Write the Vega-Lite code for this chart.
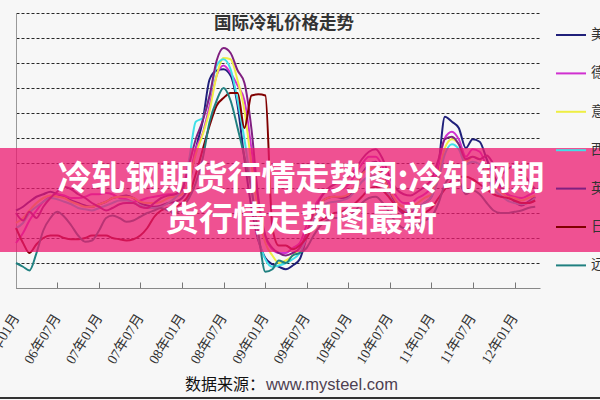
{
  "$schema": "https://vega.github.io/schema/vega-lite/v6.json",
  "width": 524,
  "height": 275,
  "autosize": {"type": "none"},
  "padding": {"left": 16, "top": 13, "right": 60, "bottom": 112},
  "background": "#f7f7f7",
  "config": {"view": {"stroke": null}, "font": "Noto Sans CJK SC"},
  "layer": [
    {
      "data": {"values": [
        {"m":"2006-01-01","美国":610,"德国":480,"意大利":560,"西班牙":540,"英国":600,"日本":540,"远东":400},
        {"m":"2006-02-01","美国":625,"德国":520,"意大利":580,"西班牙":560,"英国":570,"日本":480,"远东":385},
        {"m":"2006-03-01","美国":645,"德国":570,"意大利":610,"西班牙":600,"英国":605,"日本":440,"远东":370},
        {"m":"2006-04-01","美国":665,"德国":610,"意大利":640,"西班牙":625,"英国":580,"日本":475,"远东":440},
        {"m":"2006-05-01","美国":675,"德国":645,"意大利":660,"西班牙":645,"英国":625,"日本":500,"远东":530},
        {"m":"2006-06-01","美国":685,"德国":665,"意大利":670,"西班牙":660,"英国":660,"日本":510,"远东":580},
        {"m":"2006-07-01","美国":675,"德国":675,"意大利":665,"西班牙":655,"英国":685,"日本":510,"远东":605},
        {"m":"2006-08-01","美国":665,"德国":670,"意大利":660,"西班牙":645,"英国":705,"日本":500,"远东":585},
        {"m":"2006-09-01","美国":650,"德国":660,"意大利":645,"西班牙":635,"英国":695,"日本":495,"远东":550},
        {"m":"2006-10-01","美国":640,"德国":660,"意大利":635,"西班牙":620,"英国":675,"日本":495,"远东":510},
        {"m":"2006-11-01","美国":630,"德国":665,"意大利":625,"西班牙":615,"英国":660,"日本":500,"远东":485},
        {"m":"2006-12-01","美国":625,"德国":675,"意大利":625,"西班牙":610,"英国":640,"日本":510,"远东":490},
        {"m":"2007-01-01","美国":635,"德国":675,"意大利":635,"西班牙":620,"英国":625,"日本":510,"远东":530},
        {"m":"2007-02-01","美国":645,"德国":680,"意大利":645,"西班牙":630,"英国":610,"日本":510,"远东":580},
        {"m":"2007-03-01","美国":660,"德国":675,"意大利":660,"西班牙":640,"英国":620,"日本":500,"远东":590},
        {"m":"2007-04-01","美国":665,"德国":660,"意大利":665,"西班牙":650,"英国":635,"日本":495,"远东":580},
        {"m":"2007-05-01","美国":670,"德国":655,"意大利":665,"西班牙":650,"英国":640,"日本":490,"远东":565},
        {"m":"2007-06-01","美国":660,"德国":645,"意大利":660,"西班牙":640,"英国":640,"日本":495,"远东":570},
        {"m":"2007-07-01","美国":640,"德国":650,"意大利":645,"西班牙":630,"英国":625,"日本":510,"远东":585},
        {"m":"2007-08-01","美国":630,"德国":660,"意大利":640,"西班牙":620,"英国":620,"日本":540,"远东":600},
        {"m":"2007-09-01","美国":625,"德国":665,"意大利":640,"西班牙":620,"英国":640,"日本":585,"远东":610},
        {"m":"2007-10-01","美国":630,"德国":670,"意大利":645,"西班牙":625,"英国":660,"日本":610,"远东":620},
        {"m":"2007-11-01","美国":640,"德国":675,"意大利":660,"西班牙":640,"英国":670,"日本":620,"远东":610},
        {"m":"2007-12-01","美国":645,"德国":675,"意大利":665,"西班牙":660,"英国":675,"日本":625,"远东":600},
        {"m":"2008-01-01","美国":660,"德国":690,"意大利":675,"西班牙":695,"英国":695,"日本":640,"远东":620},
        {"m":"2008-02-01","美国":715,"德国":735,"意大利":735,"西班牙":815,"英国":795,"日本":675,"远东":660},
        {"m":"2008-03-01","美国":855,"德国":855,"意大利":835,"西班牙":965,"英国":895,"日本":755,"远东":720},
        {"m":"2008-04-01","美国":970,"德国":920,"意大利":915,"西班牙":980,"英国":970,"日本":855,"远东":820},
        {"m":"2008-05-01","美国":1135,"德国":1030,"意大利":1010,"西班牙":1070,"英国":1070,"日本":950,"远东":965},
        {"m":"2008-06-01","美国":1170,"德国":1150,"意大利":1150,"西班牙":1190,"英国":1210,"日本":1030,"远东":1050},
        {"m":"2008-07-01","美国":1175,"德国":1190,"意大利":1220,"西班牙":1215,"英国":1260,"日本":1060,"远东":1100},
        {"m":"2008-08-01","美国":1150,"德国":1160,"意大利":1215,"西班牙":1175,"英国":1240,"日本":1080,"远东":1050},
        {"m":"2008-09-01","美国":1030,"德国":1110,"意大利":1130,"西班牙":1050,"英国":1170,"日本":1080,"远东":940},
        {"m":"2008-10-01","美国":815,"德国":1050,"意大利":1010,"西班牙":895,"英国":1120,"日本":940,"远东":825},
        {"m":"2008-11-01","美国":620,"德国":855,"意大利":795,"西班牙":695,"英国":935,"日本":1070,"远东":695},
        {"m":"2008-12-01","美国":490,"德国":640,"意大利":600,"西班牙":500,"英国":660,"日本":1075,"远东":520},
        {"m":"2009-01-01","美国":420,"德国":500,"意大利":480,"西班牙":415,"英国":510,"日本":1070,"远东":365},
        {"m":"2009-02-01","美国":395,"德国":455,"意大利":430,"西班牙":385,"英国":460,"日本":540,"远东":375},
        {"m":"2009-03-01","美国":385,"德国":440,"意大利":400,"西班牙":390,"英国":440,"日本":470,"远东":410},
        {"m":"2009-04-01","美国":375,"德国":440,"意大利":410,"西班牙":400,"英国":430,"日本":470,"远东":400},
        {"m":"2009-05-01","美国":390,"德国":460,"意大利":430,"西班牙":415,"英国":440,"日本":455,"远东":430},
        {"m":"2009-06-01","美国":415,"德国":480,"意大利":460,"西班牙":440,"英国":460,"日本":470,"远东":440},
        {"m":"2009-07-01","美国":500,"德国":550,"意大利":520,"西班牙":500,"英国":520,"日本":500,"远东":460},
        {"m":"2009-08-01","美国":585,"德国":620,"意大利":585,"西班牙":570,"英国":600,"日本":550,"远东":510},
        {"m":"2009-09-01","美国":640,"德国":665,"意大利":640,"西班牙":620,"英国":660,"日本":570,"远东":550},
        {"m":"2009-10-01","美国":660,"德国":690,"意大利":660,"西班牙":640,"英国":695,"日本":585,"远东":570},
        {"m":"2009-11-01","美国":665,"德国":695,"意大利":665,"西班牙":645,"英国":715,"日本":600,"远东":580},
        {"m":"2009-12-01","美国":660,"德国":695,"意大利":665,"西班牙":650,"英国":725,"日本":605,"远东":580},
        {"m":"2010-01-01","美国":665,"德国":715,"意大利":675,"西班牙":660,"英国":745,"日本":620,"远东":585},
        {"m":"2010-02-01","美国":705,"德国":755,"意大利":715,"西班牙":690,"英国":775,"日本":640,"远东":610},
        {"m":"2010-03-01","美国":755,"德国":795,"意大利":755,"西班牙":725,"英国":815,"日本":665,"远东":640},
        {"m":"2010-04-01","美国":795,"德国":825,"意大利":775,"西班牙":745,"英国":845,"日本":695,"远东":660},
        {"m":"2010-05-01","美国":805,"德国":825,"意大利":785,"西班牙":750,"英国":855,"日本":705,"远东":665},
        {"m":"2010-06-01","美国":755,"德国":785,"意大利":745,"西班牙":715,"英国":815,"日本":690,"远东":640},
        {"m":"2010-07-01","美国":690,"德国":715,"意大利":690,"西班牙":665,"英国":745,"日本":660,"远东":600},
        {"m":"2010-08-01","美国":625,"德国":665,"意大利":645,"西班牙":625,"英国":695,"日本":625,"远东":560},
        {"m":"2010-09-01","美国":600,"德国":640,"意大利":625,"西班牙":610,"英国":675,"日本":605,"远东":540},
        {"m":"2010-10-01","美国":605,"德国":640,"意大利":625,"西班牙":610,"英国":670,"日本":585,"远东":540},
        {"m":"2010-11-01","美国":620,"德国":660,"意大利":640,"西班牙":625,"英国":685,"日本":585,"远东":555},
        {"m":"2010-12-01","美国":640,"德国":675,"意大利":660,"西班牙":640,"英国":705,"日本":600,"远东":570},
        {"m":"2011-01-01","美国":665,"德国":705,"意大利":675,"西班牙":665,"英国":735,"日本":620,"远东":585},
        {"m":"2011-02-01","美国":795,"德国":795,"意大利":755,"西班牙":735,"英国":815,"日本":660,"远东":640},
        {"m":"2011-03-01","美国":985,"德国":900,"意大利":860,"西班牙":835,"英国":895,"日本":695,"远东":715},
        {"m":"2011-04-01","美国":965,"德国":925,"意大利":895,"西班牙":875,"英国":905,"日本":730,"远东":745},
        {"m":"2011-05-01","美国":940,"德国":895,"意大利":875,"西班牙":855,"英国":875,"日本":745,"远东":730},
        {"m":"2011-06-01","美国":860,"德国":825,"意大利":805,"西班牙":795,"英国":815,"日本":745,"远东":675},
        {"m":"2011-07-01","美国":895,"德国":855,"意大利":825,"西班牙":805,"英国":825,"日本":735,"远东":690},
        {"m":"2011-08-01","美国":885,"德国":845,"意大利":815,"西班牙":795,"英国":815,"日本":715,"远东":675},
        {"m":"2011-09-01","美国":815,"德国":785,"意大利":770,"西班牙":745,"英国":830,"日本":695,"远东":640},
        {"m":"2011-10-01","美国":750,"德国":730,"意大利":715,"西班牙":695,"英国":795,"日本":675,"远东":610},
        {"m":"2011-11-01","美国":705,"德国":695,"意大利":685,"西班牙":670,"英国":755,"日本":665,"远东":600},
        {"m":"2011-12-01","美国":675,"德国":675,"意大利":665,"西班牙":650,"英国":775,"日本":660,"远东":600},
        {"m":"2012-01-01","美国":645,"德国":665,"意大利":660,"西班牙":640,"英国":790,"日本":650,"远东":605},
        {"m":"2012-02-01","美国":630,"德国":660,"意大利":650,"西班牙":635,"英国":770,"日本":640,"远东":610},
        {"m":"2012-03-01","美国":645,"德国":670,"意大利":660,"西班牙":640,"英国":730,"日本":640,"远东":620},
        {"m":"2012-04-01","美国":665,"德国":685,"意大利":670,"西班牙":660,"英国":695,"日本":650,"远东":625}
      ]},
      "transform": [{"fold": ["美国","德国","意大利","西班牙","英国","日本","远东"], "as": ["country","price"]}],
      "mark": {"type": "line", "interpolate": "monotone", "strokeWidth": 2},
      "encoding": {
        "x": {
          "field": "m", "type": "temporal",
          "scale": {"type": "utc", "domain": [{"year":2006,"month":1,"date":1,"utc":true},{"year":2012,"month":4,"date":22,"utc":true}]},
          "axis": {
            "title": null, "grid": false, "tickCount": 30,
            "labelExpr": "utcFormat(datum.value, '%y年%m月')",
            "values": [
              {"year":2006,"month":1,"date":1,"utc":true},{"year":2006,"month":7,"date":1,"utc":true},
              {"year":2007,"month":1,"date":1,"utc":true},{"year":2007,"month":7,"date":1,"utc":true},
              {"year":2008,"month":1,"date":1,"utc":true},{"year":2008,"month":7,"date":1,"utc":true},
              {"year":2009,"month":1,"date":1,"utc":true},{"year":2009,"month":7,"date":1,"utc":true},
              {"year":2010,"month":1,"date":1,"utc":true},{"year":2010,"month":7,"date":1,"utc":true},
              {"year":2011,"month":1,"date":1,"utc":true},{"year":2011,"month":7,"date":1,"utc":true},
              {"year":2012,"month":1,"date":1,"utc":true}
            ],
            "labelAngle": -58, "labelAlign": "right", "labelBaseline": "middle",
            "labelFont": "Liberation Serif, Noto Sans CJK SC", "labelFontSize": 14, "labelColor": "#333",
            "labelPadding": 33, "labelOverlap": false, "labelFlush": false,
            "tickSize": -6, "tickColor": "#777", "domainColor": "#888"
          }
        },
        "y": {
          "field": "price", "type": "quantitative",
          "scale": {"domain": [300, 1400], "nice": false, "zero": false},
          "axis": {
            "title": null, "labels": false, "ticks": false, "tickCount": 30,
            "values": [300,400,500,600,700,800,900,1000,1100,1200,1300,1400],
            "domainColor": "#999", "gridColor": "#111", "gridDash": [3, 2], "gridOpacity": 0.9
          }
        },
        "color": {
          "field": "country", "type": "nominal",
          "scale": {
            "domain": ["美国","德国","意大利","西班牙","英国","日本","远东"],
            "range": ["#20207a","#d030d0","#eeee44","#40e0e8","#802080","#800000","#208080"]
          },
          "legend": {
            "title": null, "orient": "right", "offset": 9, "padding": 6,
            "symbolType": "stroke", "symbolSize": 900, "symbolStrokeWidth": 2,
            "rowPadding": 15.4, "labelFontSize": 14, "labelColor": "#333", "labelOffset": 4,
            "labelFont": "Noto Sans CJK SC", "zindex": -1
          }
        }
      }
    },
    {
      "data": {"values": [{"name": "banner"}]},
      "mark": {"type": "rect", "fill": "#ec1a70", "opacity": 0.75},
      "encoding": {
        "x": {"datum": {"year":2005,"month":6,"date":1,"utc":true}, "type": "temporal", "title": null},
        "x2": {"datum": {"year":2013,"month":6,"date":1,"utc":true}},
        "y": {"datum": 860, "type": "quantitative", "title": null},
        "y2": {"datum": 444}
      }
    },
    {
      "data": {"values": [{"t": "冷轧钢期货行情走势图:冷轧钢期"}]},
      "mark": {"type": "text", "fontSize": 34, "fontWeight": "bold", "font": "Noto Sans CJK SC", "fill": "#ffffff", "align": "center", "baseline": "middle"},
      "encoding": {
        "text": {"field": "t"},
        "x": {"datum": {"year":2009,"month":6,"date":7,"utc":true}, "type": "temporal", "title": null},
        "y": {"datum": 732, "type": "quantitative", "title": null}
      }
    },
    {
      "data": {"values": [{"t": "货行情走势图最新"}]},
      "mark": {"type": "text", "fontSize": 34, "fontWeight": "bold", "font": "Noto Sans CJK SC", "fill": "#ffffff", "align": "center", "baseline": "middle"},
      "encoding": {
        "text": {"field": "t"},
        "x": {"datum": {"year":2009,"month":6,"date":7,"utc":true}, "type": "temporal", "title": null},
        "y": {"datum": 568, "type": "quantitative", "title": null}
      }
    },
    {
      "data": {"values": [{"t": "国际冷轧价格走势"}]},
      "mark": {"type": "text", "fontSize": 17.5, "fontWeight": "bold", "font": "Noto Sans CJK SC", "fill": "#333", "align": "center", "baseline": "middle"},
      "encoding": {
        "text": {"field": "t"},
        "x": {"datum": {"year":2009,"month":3,"date":24,"utc":true}, "type": "temporal", "title": null},
        "y": {"datum": 1356, "type": "quantitative", "title": null}
      }
    },
    {
      "data": {"values": [{"t": "数据来源："}]},
      "mark": {"type": "text", "fontSize": 16, "font": "Noto Sans CJK SC", "fill": "#111", "align": "right", "baseline": "middle"},
      "encoding": {
        "text": {"field": "t"},
        "x": {"datum": {"year":2008,"month":12,"date":30,"utc":true}, "type": "temporal", "title": null},
        "y": {"datum": -88, "type": "quantitative", "title": null}
      }
    },
    {
      "data": {"values": [{"t": "www.mysteel.com"}]},
      "mark": {"type": "text", "fontSize": 16.5, "font": "Liberation Sans", "fill": "#4d4050", "align": "left", "baseline": "middle", "dx": 1},
      "encoding": {
        "text": {"field": "t"},
        "x": {"datum": {"year":2008,"month":12,"date":30,"utc":true}, "type": "temporal", "title": null},
        "y": {"datum": -88, "type": "quantitative", "title": null}
      }
    },
    {
      "data": {"values": [{"name": "frame"}]},
      "mark": {"type": "rule", "stroke": "#333", "strokeWidth": 2},
      "encoding": {
        "x": {"datum": {"year":2005,"month":1,"date":1,"utc":true}, "type": "temporal", "title": null},
        "x2": {"datum": {"year":2013,"month":12,"date":1,"utc":true}},
        "y": {"datum": -140, "type": "quantitative", "title": null}
      }
    }
  ]
}
